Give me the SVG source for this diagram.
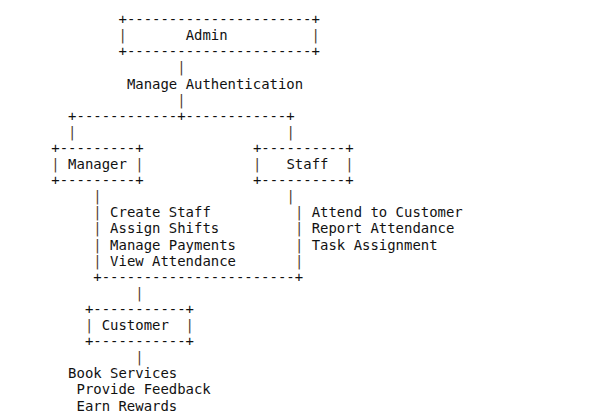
<svg xmlns="http://www.w3.org/2000/svg" width="589" height="415" viewBox="0 0 589 415">
<style>
text{font-family:"DejaVu Sans Mono","Liberation Mono",monospace;font-size:13.95px;fill:#111111;white-space:pre}
.p{fill:#4f3d33}
</style>
<rect width="589" height="415" fill="#ffffff"/>
<g transform="translate(1.5,1.5)">
<g id="admin">
<text x="117" y="22.6">+----------------------+</text>
<text x="117" y="38.7"><tspan class="p">|</tspan>       Admin          <tspan class="p">|</tspan></text>
<text x="117" y="54.8">+----------------------+</text>
</g>
<g id="connectors">
<text x="175.8" y="70.9" class="p">|</text>
<text x="125.4" y="87">Manage Authentication</text>
<text x="175.8" y="103.1" class="p">|</text>
<text x="66.6" y="119.2">+------------+------------+</text>
<text x="66.6" y="135.3" class="p">|</text>
<text x="285" y="135.3" class="p">|</text>
<text x="91.8" y="199.7" class="p">|</text>
<text x="285" y="199.7" class="p">|</text>
<text x="91.8" y="280.2">+-----------------------+</text>
<text x="133.8" y="296.3" class="p">|</text>
<text x="133.8" y="360.7" class="p">|</text>
</g>
<g id="manager">
<text x="49.8" y="151.4">+---------+</text>
<text x="49.8" y="167.5"><tspan class="p">|</tspan> Manager <tspan class="p">|</tspan></text>
<text x="49.8" y="183.6">+---------+</text>
</g>
<g id="manager-tasks">
<text x="91.8" y="215.8"><tspan class="p">|</tspan> Create Staff</text>
<text x="91.8" y="231.9"><tspan class="p">|</tspan> Assign Shifts</text>
<text x="91.8" y="248"><tspan class="p">|</tspan> Manage Payments</text>
<text x="91.8" y="264.1"><tspan class="p">|</tspan> View Attendance</text>
</g>
<g id="staff">
<text x="251.4" y="151.4">+----------+</text>
<text x="251.4" y="167.5"><tspan class="p">|</tspan>   Staff  <tspan class="p">|</tspan></text>
<text x="251.4" y="183.6">+----------+</text>
</g>
<g id="staff-tasks">
<text x="293.4" y="215.8"><tspan class="p">|</tspan> Attend to Customer</text>
<text x="293.4" y="231.9"><tspan class="p">|</tspan> Report Attendance</text>
<text x="293.4" y="248"><tspan class="p">|</tspan> Task Assignment</text>
<text x="293.4" y="264.1" class="p">|</text>
</g>
<g id="customer">
<text x="83.4" y="312.4">+-----------+</text>
<text x="83.4" y="328.5"><tspan class="p">|</tspan> Customer  <tspan class="p">|</tspan></text>
<text x="83.4" y="344.6">+-----------+</text>
</g>
<g id="customer-actions">
<text x="66.6" y="376.8">Book Services</text>
<text x="75" y="392.9">Provide Feedback</text>
<text x="75" y="409">Earn Rewards</text>
</g>
</g>
</svg>
